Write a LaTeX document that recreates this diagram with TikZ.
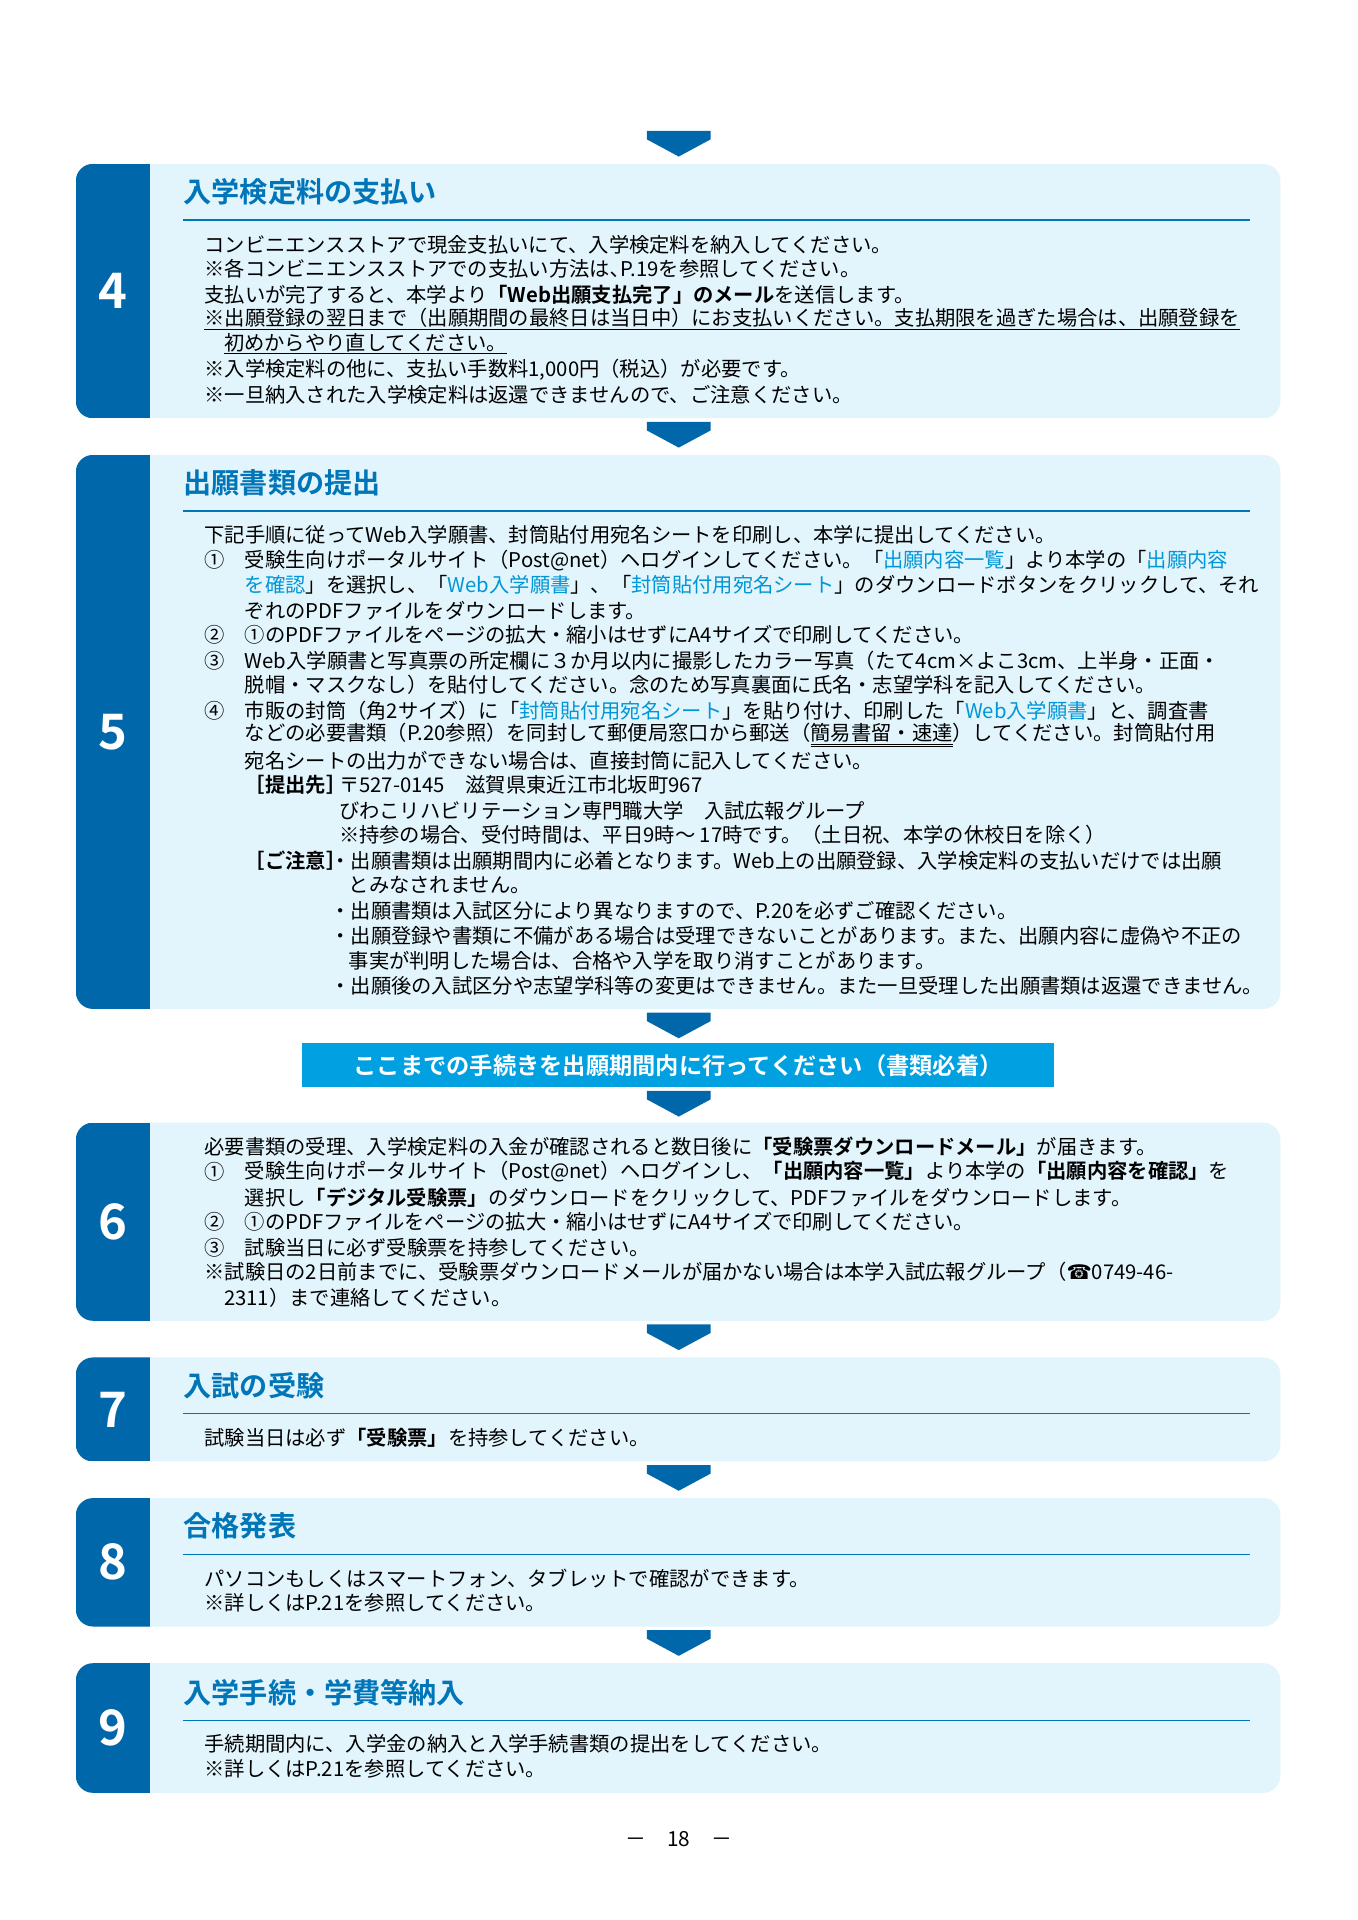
\documentclass[tikz,border=0pt]{standalone}
\usepackage{fontspec}
\setmainfont{Noto Sans CJK JP}[BoldFont={Noto Sans CJK JP Bold}]
\newfontfamily\symfont{DejaVu Sans}
\usetikzlibrary{positioning}
\definecolor{stepdark}{RGB}{0,104,170}
\definecolor{steplight}{RGB}{226,244,252}
\definecolor{stepline}{RGB}{0,118,185}
\definecolor{linkblue}{RGB}{0,150,215}
\definecolor{bannerblue}{RGB}{0,160,225}
\newcommand{\lk}[1]{\textcolor{linkblue}{#1}}
\newcommand{\stepbox}[4]{%
  \fill[steplight, rounded corners=14pt] (62,#2) rectangle (1047,#3);
  \begin{scope}
    \clip[rounded corners=14pt] (62,#2) rectangle (1047,#3);
    \fill[stepdark] (62,#2) rectangle (123,#3);
  \end{scope}
  \node (#1) [stepnum] at (92,{(#2+#3)/2}) {#4};}
\newcommand{\steparrow}[1]{%
  \fill[stepdark] (529,#1) -- (581,#1) -- (581,#1+7) -- (555,#1+21) -- (529,#1+7) -- cycle;}
\newcommand{\steptitle}[3]{%
  \node (#1) [title] at (150,#2) {#3};
  \draw[stepline, line width=1.2pt] (150,#2+23) -- (1022,#2+23);}
\begin{document}
\begin{tikzpicture}
  [
    x=1pt, y=-1pt,
    stepnum/.style={text=white, font=\fontsize{40}{40}\selectfont\bfseries},
    title/.style={anchor=west, inner sep=0pt, text=stepline, font=\fontsize{23}{23}\selectfont\bfseries},
    txt/.style={anchor=west, inner sep=0pt, font=\fontsize{16.6}{18}\selectfont},
  ]
  \useasboundingbox[fill=white] (0,0) rectangle (1110,1570);

  % step 4
  \steparrow{107}
  \stepbox{n4}{134}{342}{4}
  \steptitle{h4}{157}{入学検定料の支払い}
  \node (a1) [txt] at (167,200) {コンビニエンスストアで現金支払いにて、入学検定料を納入してください。};
  \node (a2) [txt] at (167,220) {※各コンビニエンスストアでの支払い方法は､P.19を参照してください。};
  \node (a3) [txt] at (167,241) {支払いが完了すると、本学より\textbf{「Web出願支払完了」のメール}を送信します。};
  \node (a4) [txt] at (167,261) {\underline{※出願登録の翌日まで（出願期間の最終日は当日中）にお支払いください。支払期限を過ぎた場合は、出願登録を}};
  \node (a5) [txt] at (183,281) {\underline{初めからやり直してください。}};
  \node (a6) [txt] at (167,302) {※入学検定料の他に、支払い手数料1,000円（税込）が必要です。};
  \node (a7) [txt] at (167,323) {※一旦納入された入学検定料は返還できませんので、ご注意ください。};

  % step 5
  \steparrow{345}
  \stepbox{n5}{372}{825}{5}
  \steptitle{h5}{395}{出願書類の提出}
  \node (b1) [txt] at (167,437) {下記手順に従ってWeb入学願書、封筒貼付用宛名シートを印刷し、本学に提出してください。};
  \node (b2m) [txt] at (167,458) {①};
  \node (b2) [txt] at (200,458) {受験生向けポータルサイト（Post@net）ヘログインしてください。「\lk{出願内容一覧}」より本学の「\lk{出願内容}};
  \node (b3) [txt] at (200,478) {\lk{を確認}」を選択し、「\lk{Web入学願書}」、「\lk{封筒貼付用宛名シート}」のダウンロードボタンをクリックして、それ};
  \node (b4) [txt] at (200,499) {ぞれのPDFファイルをダウンロードします。};
  \node (b5m) [txt] at (167,519) {②};
  \node (b5) [txt] at (200,519) {①のPDFファイルをページの拡大・縮小はせずにA4サイズで印刷してください。};
  \node (b6m) [txt] at (167,540) {③};
  \node (b6) [txt] at (200,540) {Web入学願書と写真票の所定欄に３か月以内に撮影したカラー写真（たて4cm×よこ3cm、上半身・正面・};
  \node (b7) [txt] at (200,560) {脱帽・マスクなし）を貼付してください。念のため写真裏面に氏名・志望学科を記入してください。};
  \node (b8m) [txt] at (167,581) {④};
  \node (b8) [txt] at (200,581) {市販の封筒（角2サイズ）に「\lk{封筒貼付用宛名シート}」を貼り付け、印刷した「\lk{Web入学願書}」と、調査書};
  \node (b9) [txt] at (200,601) {などの必要書類（P.20参照）を同封して郵便局窓口から郵送（\underline{\underline{簡易書留・速達}}）してください。封筒貼付用};
  \node (b10) [txt] at (200,622) {宛名シートの出力ができない場合は、直接封筒に記入してください。};
  \node (b11m) [txt] at (200,642) {\textbf{［提出先］}};
  \node (b11) [txt] at (277,642) {〒527-0145　滋賀県東近江市北坂町967};
  \node (b12) [txt] at (277,663) {びわこリハビリテーション専門職大学　入試広報グループ};
  \node (b13) [txt] at (277,683) {※持参の場合、受付時間は、平日9時～ 17時です。（土日祝、本学の休校日を除く）};
  \node (b14m) [txt] at (200,704) {\textbf{［ご注意］}};
  \node (b14) [txt] at (270,704) {・出願書類は出願期間内に必着となります。Web上の出願登録、入学検定料の支払いだけでは出願};
  \node (b15) [txt] at (285,724) {とみなされません。};
  \node (b16) [txt] at (270,745) {・出願書類は入試区分により異なりますので、P.20を必ずご確認ください。};
  \node (b17) [txt] at (270,765) {・出願登録や書類に不備がある場合は受理できないことがあります。また、出願内容に虚偽や不正の};
  \node (b18) [txt] at (285,786) {事実が判明した場合は、合格や入学を取り消すことがあります。};
  \node (b19) [txt] at (270,806) {・出願後の入試区分や志望学科等の変更はできません。また一旦受理した出願書類は返還できません。};

  % banner
  \steparrow{828}
  \fill[bannerblue] (247,853) rectangle (862,889);
  \node (banner) [text=white, font=\fontsize{19}{19}\selectfont\bfseries] at (554.5,871) {ここまでの手続きを出願期間内に行ってください（書類必着）};
  \steparrow{892}

  % step 6
  \stepbox{n6}{918}{1080}{6}
  \node (c1) [txt] at (167,938) {必要書類の受理、入学検定料の入金が確認されると数日後に\textbf{「受験票ダウンロードメール」}が届きます。};
  \node (c2m) [txt] at (167,958) {①};
  \node (c2) [txt] at (200,958) {受験生向けポータルサイト（Post@net）ヘログインし、\textbf{「出願内容一覧」}より本学の\textbf{「出願内容を確認」}を};
  \node (c3) [txt] at (200,979) {選択し\textbf{「デジタル受験票」}のダウンロードをクリックして、PDFファイルをダウンロードします。};
  \node (c4m) [txt] at (167,999) {②};
  \node (c4) [txt] at (200,999) {①のPDFファイルをページの拡大・縮小はせずにA4サイズで印刷してください。};
  \node (c5m) [txt] at (167,1020) {③};
  \node (c5) [txt] at (200,1020) {試験当日に必ず受験票を持参してください。};
  \node (c6) [txt] at (167,1040) {※試験日の2日前までに、受験票ダウンロードメールが届かない場合は本学入試広報グループ（{\symfont ☎}0749-46-};
  \node (c7) [txt] at (183,1061) {2311）まで連絡してください。};

  % step 7
  \steparrow{1083}
  \stepbox{n7}{1110}{1195}{7}
  \steptitle{h7}{1133}{入試の受験}
  \node (d1) [txt] at (167,1176) {試験当日は必ず\textbf{「受験票」}を持参してください。};

  % step 8
  \steparrow{1198}
  \stepbox{n8}{1225}{1330}{8}
  \steptitle{h8}{1248}{合格発表}
  \node (e1) [txt] at (167,1291) {パソコンもしくはスマートフォン、タブレットで確認ができます。};
  \node (e2) [txt] at (167,1311) {※詳しくはP.21を参照してください。};

  % step 9
  \steparrow{1333}
  \stepbox{n9}{1360}{1466}{9}
  \steptitle{h9}{1384}{入学手続・学費等納入}
  \node (f1) [txt] at (167,1426) {手続期間内に、入学金の納入と入学手続書類の提出をしてください。};
  \node (f2) [txt] at (167,1446) {※詳しくはP.21を参照してください。};

  \node (page) [font=\fontsize{17}{17}\selectfont] at (555,1504) {－　18　－};
\end{tikzpicture}
\end{document}
